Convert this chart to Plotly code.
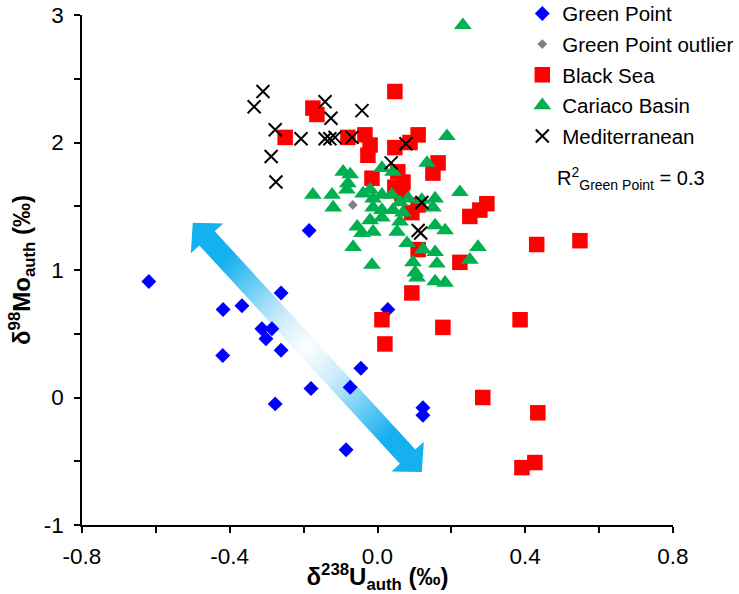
import numpy as np
import plotly.graph_objects as go

# ---------------- data ----------------
gp_x = [-0.619, -0.418, -0.367, -0.261, -0.313, -0.286, -0.302, -0.261, -0.419, -0.180,
        -0.277, -0.074, -0.045, -0.085, -0.185, 0.028, 0.123, 0.123]
gp_y = [0.91, 0.69, 0.72, 0.82, 0.54, 0.54, 0.46, 0.37, 0.33, 0.07,
        -0.05, 0.08, 0.23, -0.41, 1.31, 0.69, -0.08, -0.14]

gpo_x = [-0.067]
gpo_y = [1.51]

bs_x = [0.047, -0.175, -0.164, -0.250, -0.080, -0.034, -0.020, -0.026, 0.047, 0.088,
        0.110, 0.164, 0.150, 0.055, 0.069, -0.015, 0.047, 0.066, 0.110, 0.093,
        0.296, 0.277, 0.250, 0.110, 0.223, 0.431, 0.548, 0.093, 0.012, 0.020,
        0.177, 0.386, 0.285, 0.434, 0.391, 0.426]
bs_y = [2.40, 2.27, 2.22, 2.04, 2.04, 2.06, 1.98, 1.90, 1.96, 2.00,
        2.06, 1.84, 1.76, 1.77, 1.69, 1.72, 1.65, 1.60, 1.51, 1.45,
        1.52, 1.47, 1.42, 1.16, 1.06, 1.20, 1.23, 0.82, 0.61, 0.42,
        0.55, 0.61, 0.00, -0.12, -0.55, -0.51]

cb_x = [0.188, -0.093, -0.074, -0.080, -0.083, -0.175, -0.123, -0.120, -0.039, -0.020,
        0.012, 0.042, 0.134, 0.223, -0.012, 0.012, 0.039, 0.061, 0.083, -0.012,
        0.012, 0.042, 0.069, 0.120, 0.156, 0.150, -0.020, 0.012, 0.061, -0.055,
        -0.042, -0.012, 0.053, 0.156, 0.183, -0.066, 0.080, 0.123, 0.156, 0.272,
        0.250, -0.015, 0.096, 0.102, 0.161, 0.107, 0.156, 0.183, 0.231]
cb_y = [2.05, 1.77, 1.75, 1.68, 1.63, 1.59, 1.59, 1.49, 1.60, 1.63,
        1.80, 1.77, 1.84, 1.61, 1.56, 1.59, 1.59, 1.53, 1.56, 1.49,
        1.47, 1.47, 1.45, 1.55, 1.56, 1.49, 1.39, 1.41, 1.38, 1.34,
        1.29, 1.30, 1.30, 1.35, 1.31, 1.18, 1.21, 1.16, 1.14, 1.18,
        1.08, 1.04, 1.06, 0.98, 1.05, 0.94, 0.91, 0.90, 2.92]

med_x = [-0.310, -0.334, -0.277, -0.288, -0.275, -0.207, -0.142, -0.126, -0.142, -0.129,
         -0.115, -0.042, -0.069, 0.077, 0.037, 0.120, 0.110, 0.117]
med_y = [2.40, 2.28, 2.10, 1.89, 1.69, 2.03, 2.32, 2.19, 2.03, 2.03,
         2.04, 2.25, 2.04, 1.99, 1.84, 1.53, 1.31, 1.29]

# decorative double arrow (data-space end points)
arrow_start = (-0.50, 1.37)
arrow_end = (0.12, -0.585)

x_tickvals = [-0.8, -0.4, 0.0, 0.4, 0.8]
x_ticktext = ["-0.8", "-0.4", "0.0", "0.4", "0.8"]
x_minorvals = [-0.6, -0.2, 0.2, 0.6]
y_tickvals = [-1, 0, 1, 2, 3]
y_ticktext = ["-1", "0", "1", "2", "3"]
y_minorvals = [-0.5, 0.5, 1.5, 2.5]

# ---------------- layout constants ----------------
W, H = 739, 594
ML, MR, MT, MB = 82, 66, 15, 69
XR = [-0.8, 0.8]
YR = [-1, 3]
pw = W - ML - MR
ph = H - MT - MB
sx = pw / (XR[1] - XR[0])
sy = ph / (YR[1] - YR[0])


def to_px(p):
    return np.array([(p[0] - XR[0]) * sx, -(p[1] - YR[0]) * sy])


def to_data(q):
    return (q[0] / sx + XR[0], -q[1] / sy + YR[0])


A = to_px(arrow_start)
B = to_px(arrow_end)
u = (B - A) / np.linalg.norm(B - A)
n = np.array([-u[1], u[0]])
hl, hw, sw = 21.0, 22.0, 10.5
pts = [A, A + u * hl + n * hw, A + u * hl + n * sw, B - u * hl + n * sw, B - u * hl + n * hw, B,
       B - u * hl - n * hw, B - u * hl - n * sw, A + u * hl - n * sw, A + u * hl - n * hw, A]
poly = [to_data(p) for p in pts]

fig = go.Figure()
fig.add_trace(go.Scatter(
    x=[p[0] for p in poly], y=[p[1] for p in poly], mode="lines", fill="toself",
    line=dict(width=0, color="rgba(0,0,0,0)"),
    fillgradient=dict(type="radial", colorscale=[[0, "#ffffff"], [0.35, "#c8ebfa"], [1, "#14b0ef"]]),
    showlegend=False, hoverinfo="skip"))

fig.add_trace(go.Scatter(x=gp_x, y=gp_y, mode="markers", name="Green Point", legendgroup="a",
                         marker=dict(symbol="diamond", size=11.5, color="#0000FF")))
fig.add_trace(go.Scatter(x=gpo_x, y=gpo_y, mode="markers", name="Green Point outlier", legendgroup="b",
                         marker=dict(symbol="diamond", size=7.5, color="#808080")))
fig.add_trace(go.Scatter(x=bs_x, y=bs_y, mode="markers", name="Black Sea", legendgroup="c",
                         marker=dict(symbol="square", size=15.5, color="#FF0000")))
fig.add_trace(go.Scatter(x=cb_x, y=cb_y, mode="markers", name="Cariaco Basin", legendgroup="d",
                         marker=dict(symbol="triangle-up", size=15.5, color="#00B050")))
fig.add_trace(go.Scatter(x=med_x, y=med_y, mode="markers", name="Mediterranean", legendgroup="e",
                         marker=dict(symbol="x-thin-open", size=13, color="#000000",
                                     line=dict(width=2, color="#000000"))))

FONT = "Liberation Sans, Arial, sans-serif"
axis_common = dict(showline=True, linecolor="#000000", linewidth=1.6, ticks="outside",
                   ticklen=6, tickwidth=1.6, tickcolor="#000000", showgrid=False,
                   zeroline=False, tickfont=dict(family=FONT, size=22.5, color="#000000"),
                   tickmode="array", mirror=False, automargin=False)

fig.update_layout(
    width=W, height=H,
    margin=dict(l=ML, r=MR, t=MT, b=MB, autoexpand=False),
    paper_bgcolor="white", plot_bgcolor="white",
    font=dict(family=FONT, size=20, color="#000000"),
    xaxis=dict(range=XR, tickvals=x_tickvals, ticktext=x_ticktext, ticklabelstandoff=4,
               minor=dict(tickmode="array", tickvals=x_minorvals, ticks="outside", ticklen=6,
                          tickwidth=1.6, tickcolor="#000000", showgrid=False),
               title=dict(text="<b>δ<sup>238</sup>U<sub>auth</sub> (‰)</b>", standoff=4,
                          font=dict(family=FONT, size=24)), **axis_common),
    yaxis=dict(range=YR, tickvals=y_tickvals, ticktext=y_ticktext, ticklabelstandoff=6,
               minor=dict(tickmode="array", tickvals=y_minorvals, ticks="outside", ticklen=6,
                          tickwidth=1.6, tickcolor="#000000", showgrid=False),
               title=dict(text="<b>δ<sup>98</sup>Mo<sub>auth</sub> (‰)</b>", standoff=6,
                          font=dict(family=FONT, size=24)), **axis_common),
    legend=dict(x=0.745, y=1.042, xanchor="left", yanchor="top", bgcolor="rgba(0,0,0,0)",
                font=dict(family=FONT, size=20.5, color="#000000"), tracegroupgap=1,
                itemsizing="trace"),
    annotations=[dict(text="R<sup>2</sup><sub>Green Point</sub> = 0.3", xref="paper", yref="paper",
                      x=0.80, y=0.68, xanchor="left", yanchor="middle", showarrow=False,
                      font=dict(family=FONT, size=20, color="#000000"))],
)

fig.write_html("out.html")
